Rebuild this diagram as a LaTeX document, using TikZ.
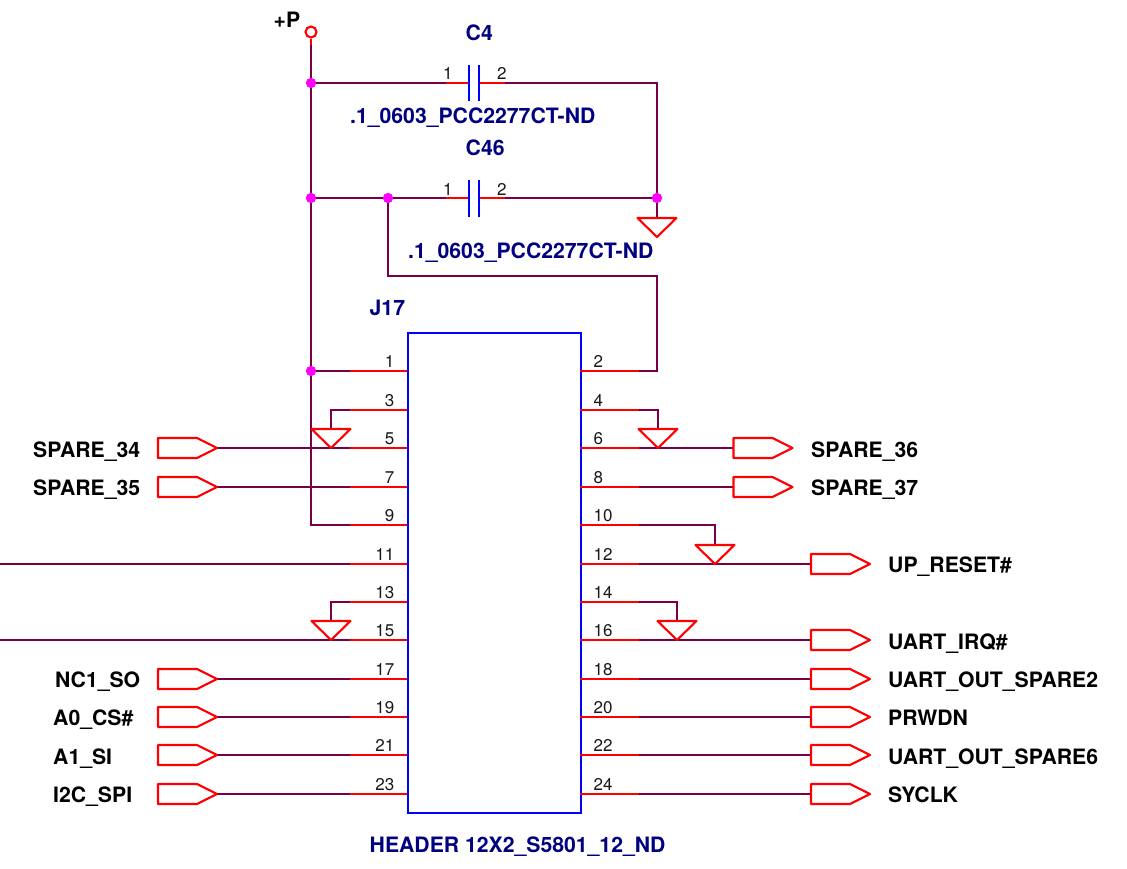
\documentclass[tikz,border=0pt]{standalone}
\usepackage{fontspec}
\setmainfont{TeX Gyre Heros}
\definecolor{wirec}{RGB}{120,0,70}
\definecolor{navyc}{RGB}{0,0,128}
\definecolor{pinc}{RGB}{255,0,0}
\definecolor{dotc}{RGB}{255,0,255}
\definecolor{platec}{RGB}{0,0,255}
\tikzset{
  wire/.style={draw=wirec,line width=2.1pt},
  stub/.style={draw=pinc,line width=2.1pt},
  plate/.style={draw=platec,line width=2.2pt},
  dot/.style={circle,fill=dotc,inner sep=0pt,minimum size=10pt},
  numl/.style={font=\fontsize{17}{17}\selectfont,text=black!90,inner sep=0pt,anchor=base east},
  numr/.style={font=\fontsize{17}{17}\selectfont,text=black!90,inner sep=0pt,anchor=base west},
  ref/.style={font=\bfseries\fontsize{21.2}{21.2}\selectfont,text=navyc,inner sep=0pt,anchor=base west},
  sig/.style={font=\bfseries\fontsize{21.2}{21.2}\selectfont,text=black,inner sep=0pt,anchor=base west},
  gnd/.pic={
    \draw[stub,line join=round] (-19.5,-19) -- (19.5,-19) -- (0,0) -- cycle;
  },
  port/.pic={
    \draw[stub,line join=round] (0,-10) -- (39,-10) -- (59,0) -- (39,10) -- (0,10) -- cycle;
  },
}
\begin{document}
\begin{tikzpicture}[x=1pt,y=-1pt]
\useasboundingbox (0,0) rectangle (1127,868);
% wires
\coordinate (Ps) at (311,45);
\node[dot] (j1) at (311,83) {};
\node[dot] (j2) at (311,198) {};
\node[dot] (j3) at (388,198) {};
\node[dot] (j4) at (657,198) {};
\node[dot] (j5) at (311,371) {};
\foreach \n/\y in {1/371,3/410,5/448,7/487,9/525,11/564,13/602,15/640,17/679,19/717,21/755,23/794}{
  \coordinate (p\n) at (350,\y);
  \coordinate (q\n) at (407,\y);
}
\foreach \n/\y in {2/371,4/410,6/448,8/487,10/525,12/564,14/602,16/640,18/679,20/717,22/755,24/794}{
  \coordinate (p\n) at (639,\y);
  \coordinate (q\n) at (580,\y);
}
\coordinate (c1a) at (445.5,83); \coordinate (c1b) at (469,83);
\coordinate (c1c) at (479,83); \coordinate (c1d) at (505,83);
\coordinate (c2a) at (445.5,198); \coordinate (c2b) at (469,198);
\coordinate (c2c) at (479,198); \coordinate (c2d) at (505,198);
\coordinate (e11) at (0,564);
\coordinate (e15) at (0,640);
\coordinate (k2) at (657,276);
\coordinate (g0t) at (657,218);
\coordinate (a5t) at (217,448);
\coordinate (a7t) at (217,487);
\coordinate (a17t) at (217,679);
\coordinate (a19t) at (217,717);
\coordinate (a21t) at (217,755);
\coordinate (a23t) at (217,794);
\coordinate (a6t) at (733.5,448);
\coordinate (a8t) at (733.5,487);
\coordinate (a12t) at (811,564);
\coordinate (a16t) at (811,640);
\coordinate (a18t) at (811,679);
\coordinate (a20t) at (811,717);
\coordinate (a22t) at (811,755);
\coordinate (a24t) at (811,794);
\draw[wire] (Ps) -- (j1) -- (j2) -- (j5) |- (p9);
\draw[wire] (j5) -- (p1);
\draw[wire] (j1) -- (c1a);
\draw[wire] (c1d) -| (j4);
\draw[wire] (j2) -- (j3) -- (c2a);
\draw[wire] (c2d) -- (j4) -- (g0t);
\draw[wire] (j3) |- (k2) |- (p2);
\draw[wire] (p3) -| (331,429);
\draw[wire] (p4) -| (658,429);
\draw[wire] (p10) -| (715,545);
\draw[wire] (p13) -| (331,621);
\draw[wire] (p14) -| (677,621);
\draw[wire] (a5t) -- (p5);
\draw[wire] (a7t) -- (p7);
\draw[wire] (e11) -- (p11);
\draw[wire] (e15) -- (p15);
\draw[wire] (a17t) -- (p17);
\draw[wire] (a19t) -- (p19);
\draw[wire] (a21t) -- (p21);
\draw[wire] (a23t) -- (p23);
\draw[wire] (p6) -- (a6t);
\draw[wire] (p8) -- (a8t);
\draw[wire] (p12) -- (a12t);
\draw[wire] (p16) -- (a16t);
\draw[wire] (p18) -- (a18t);
\draw[wire] (p20) -- (a20t);
\draw[wire] (p22) -- (a22t);
\draw[wire] (p24) -- (a24t);
% connector body
\node[draw=platec,line width=2.2pt,minimum width=173pt,minimum height=480pt,inner sep=0pt,anchor=north west] (J) at (407,332) {};
% pins
\foreach \n/\y in {1/371,3/410,5/448,7/487,9/525,11/564,13/602,15/640,17/679,19/717,21/755,23/794}{
  \draw[stub] (p\n) -- (q\n);
  \node[numl] (n\n) at (394.5,\y-4) {\n};
}
\foreach \n/\y in {2/371,4/410,6/448,8/487,10/525,12/564,14/602,16/640,18/679,20/717,22/755,24/794}{
  \draw[stub] (q\n) -- (p\n);
  \node[numr] (n\n) at (593.5,\y-4) {\n};
}
% power symbol
\node[circle,draw=pinc,line width=2.1pt,fill=white,minimum size=11pt,inner sep=0pt] (P) at (311,32) {};
\draw[stub] (P.south) -- (Ps);
\node[sig] (Pl) at (273.5,27) {+P};
% capacitors
\draw[stub] (c1a) -- (c1b) (c1c) -- (c1d) (c2a) -- (c2b) (c2c) -- (c2d);
\draw[plate] (469,65) -- (469,101) (479,65) -- (479,101) (469,180) -- (469,217) (479,180) -- (479,217);
\node[numr] (c1n1) at (443,79) {1};
\node[numr] (c1n2) at (497,79) {2};
\node[numr] (c2n1) at (443,195) {1};
\node[numr] (c2n2) at (497,195) {2};
\node[ref] (C4) at (465.5,40) {C4};
\node[ref] (C4v) at (350,123) {.1\_0603\_PCC2277CT-ND};
\node[ref] (C46) at (465.5,155) {C46};
\node[ref] (C46v) at (408,258) {.1\_0603\_PCC2277CT-ND};
\node[ref] (J17) at (369.5,315) {J17};
\node[ref] (Jv) at (369.5,852) {HEADER 12X2\_S5801\_12\_ND};
% grounds
\pic (g0) at (657,237) {gnd};
\pic (g3) at (331,448) {gnd};
\pic (g4) at (658,448) {gnd};
\pic (g10) at (715,564) {gnd};
\pic (g13) at (331,640) {gnd};
\pic (g14) at (677,640) {gnd};
% ports
\pic (a5) at (158,448) {port};
\pic (a7) at (158,487) {port};
\pic (a17) at (158,679) {port};
\pic (a19) at (158,717) {port};
\pic (a21) at (158,755) {port};
\pic (a23) at (158,794) {port};
\pic (a6) at (733.5,448) {port};
\pic (a8) at (733.5,487) {port};
\pic (a12) at (811,564) {port};
\pic (a16) at (811,640) {port};
\pic (a18) at (811,679) {port};
\pic (a20) at (811,717) {port};
\pic (a22) at (811,755) {port};
\pic (a24) at (811,794) {port};
% labels
\node[sig] (l5) at (33,457) {SPARE\_34};
\node[sig] (l7) at (33,495) {SPARE\_35};
\node[sig] (l17) at (55,687) {NC1\_SO};
\node[sig] (l19) at (53,725) {A0\_CS\#};
\node[sig] (l21) at (53,764) {A1\_SI};
\node[sig] (l23) at (53,802) {I2C\_SPI};
\node[sig] (l6) at (811,457) {SPARE\_36};
\node[sig] (l8) at (811,495) {SPARE\_37};
\node[sig] (l12) at (888,572) {UP\_RESET\#};
\node[sig] (l16) at (888,649) {UART\_IRQ\#};
\node[sig] (l18) at (888,687) {UART\_OUT\_SPARE2};
\node[sig] (l20) at (888,725) {PRWDN};
\node[sig] (l22) at (888,764) {UART\_OUT\_SPARE6};
\node[sig] (l24) at (888,802) {SYCLK};
% junction dots on top
\foreach \j in {j1,j2,j3,j4,j5}{\fill[dotc] (\j) circle (5pt);}
\end{tikzpicture}
\end{document}
